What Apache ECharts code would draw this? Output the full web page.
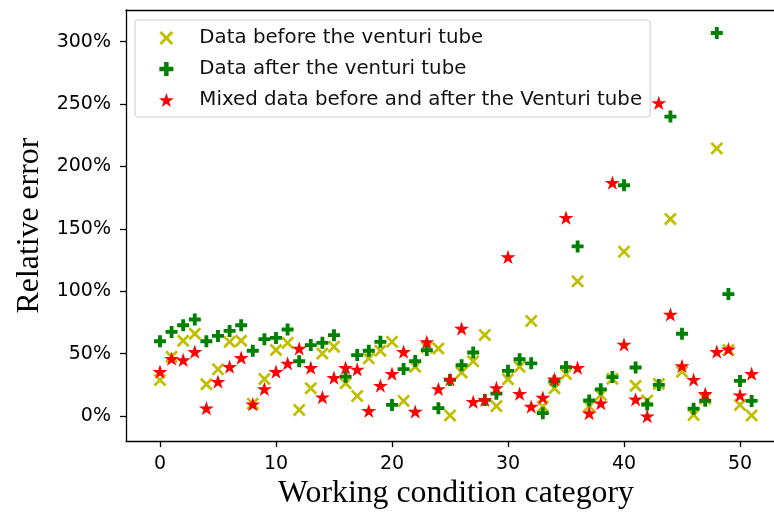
<!DOCTYPE html>
<html>
<head>
    <meta charset="utf-8" />
    <title>Relative error</title>
    <script src="https://cdn.jsdelivr.net/npm/echarts@6/dist/echarts.min.js"></script>
</head>
<body style="margin:0">
    <div id="main" style="width:774px;height:515px;"></div>
    <script type="text/javascript">
        // working condition index (x) and relative error in % (y)
        var conditions = [0, 1, 2, 3, 4, 5, 6, 7, 8, 9, 10, 11, 12, 13, 14, 15, 16, 17, 18, 19, 20, 21, 22, 23, 24, 25,
            26, 27, 28, 29, 30, 31, 32, 33, 34, 35, 36, 37, 38, 39, 40, 41, 42, 43, 44, 45, 46, 47, 48, 49, 50, 51];
        var beforeTube = [29, 47.6, 60.4, 66, 25.5, 37.5, 59.5, 60.4, 10, 29.8, 53, 58.7, 5, 22.3, 50.2, 55.6, 26.3, 16.2, 46.3, 52.4,
            59.5, 12.2, 39.6, 55, 54.2, 0.6, 35, 44, 65, 8, 29.5, 39.6, 76.3, 7.7, 22.3, 33.8, 108, 8, 17, 30,
            131.8, 24.3, 12.5, 25.8, 158, 35.6, 1, 14, 214.5, 53, 9, 0.6];
        var afterTube = [60, 67.5, 72.8, 77.4, 60, 64.3, 68.3, 72.8, 52.4, 61.7, 62.7, 69.4, 44, 56.9, 58.7, 64.9, 31.6, 48.9, 52.4, 59.5,
            9, 37.7, 44.1, 52.9, 6.4, 29, 40.8, 51, 13, 18, 36.3, 45.6, 42.3, 2.4, 28, 39.3, 136, 12.5, 21.5, 31.3,
            185, 39, 9.3, 25, 240, 66, 6, 12.3, 307, 97.8, 28.2, 12.2];
        var mixedTube = [35.6, 46, 45, 51.6, 6.4, 27.7, 39.6, 46.8, 9.6, 21.8, 35.6, 42.3, 54.2, 38.8, 15.2, 30.8, 38.8, 37.5, 4.3, 24.5,
            34, 51.6, 3.7, 59.5, 21.8, 29.5, 70.2, 11.5, 13, 22.6, 127.6, 18, 7.7, 14.9, 29.6, 159, 38.8, 2.4, 10.4, 187,
            57.4, 13.5, 0, 251, 81.5, 40.3, 29.3, 17.9, 51.6, 53.6, 16.8, 34];
        var xTicks = [0, 10, 20, 30, 40, 50];
        var yTicks = [0, 50, 100, 150, 200, 250, 300];
        var seriesNames = ['Data before the venturi tube', 'Data after the venturi tube', 'Mixed data before and after the Venturi tube'];

        var crossPath = 'path://M0,1.5L1.5,0L5,3.5L8.5,0L10,1.5L6.5,5L10,8.5L8.5,10L5,6.5L1.5,10L0,8.5L3.5,5Z';
        var plusPath = 'path://M3.4,0H6.6V3.4H10V6.6H6.6V10H3.4V6.6H0V3.4H3.4Z';
        var starPath = 'path://M10,0L12.245,6.91L19.511,6.91L13.633,11.18L15.878,18.09L10,13.82L4.122,18.09L6.367,11.18L0.489,6.91L7.755,6.91Z';

        function pairs(ys) {
            var out = [];
            for (var i = 0; i < conditions.length; i++) {
                out.push([conditions[i], ys[i]]);
            }
            return out;
        }

        var myChart = echarts.init(document.getElementById('main'));
        var tickFont = { fontFamily: 'DejaVu Sans', fontSize: 19, color: '#000' };
        var titleFont = { fontFamily: 'Liberation Serif', fontSize: 31.8, color: '#000' };
        var spine = { color: '#000', width: 1.3 };

        var option = {
            animation: false,
            backgroundColor: '#fff',
            grid: { left: 126, right: 0, top: 10, bottom: 72 },
            legend: {
                orient: 'vertical',
                left: 135, top: 20,
                padding: [8, 8, 7, 24],
                itemWidth: 56, itemHeight: 14, itemGap: 11,
                backgroundColor: 'rgba(255,255,255,0.8)',
                borderColor: '#ccc', borderWidth: 1, borderRadius: 3,
                textStyle: { fontFamily: 'DejaVu Sans', fontSize: 19.8, color: '#111' },
                data: [
                    { name: seriesNames[0], icon: crossPath },
                    { name: seriesNames[1], icon: plusPath },
                    { name: seriesNames[2], icon: starPath }
                ]
            },
            xAxis: [
                {
                    type: 'value',
                    min: -2.93, max: 52.93,
                    name: 'Working condition category',
                    nameLocation: 'middle', nameGap: 36,
                    nameTextStyle: Object.assign({ padding: [0, 0, 0, 12] }, titleFont),
                    splitLine: { show: false },
                    axisLine: { onZero: false, lineStyle: spine },
                    axisTick: { length: 6, lineStyle: spine, customValues: xTicks },
                    axisLabel: Object.assign({ margin: 13, customValues: xTicks }, tickFont)
                },
                {
                    // top spine only
                    type: 'value', position: 'top',
                    min: -2.93, max: 52.93,
                    splitLine: { show: false },
                    axisLine: { onZero: false, lineStyle: spine },
                    axisTick: { show: false },
                    axisLabel: { show: false }
                }
            ],
            yAxis: {
                type: 'value',
                min: -20, max: 325.4,
                name: 'Relative error',
                nameLocation: 'middle', nameGap: 80,
                nameTextStyle: titleFont,
                splitLine: { show: false },
                axisLine: { onZero: false, lineStyle: spine },
                axisTick: { length: 6, lineStyle: spine, customValues: yTicks },
                axisLabel: Object.assign({ margin: 15, customValues: yTicks, formatter: '{value}%' }, tickFont)
            },
            series: [
                {
                    name: seriesNames[0], type: 'scatter', data: pairs(beforeTube),
                    symbol: crossPath, symbolSize: 13, symbolKeepAspect: true,
                    itemStyle: { color: '#bfbf00', opacity: 1 }
                },
                {
                    name: seriesNames[1], type: 'scatter', data: pairs(afterTube),
                    symbol: plusPath, symbolSize: 12, symbolKeepAspect: true,
                    itemStyle: { color: '#008000', opacity: 1 }
                },
                {
                    name: seriesNames[2], type: 'scatter', data: pairs(mixedTube),
                    symbol: starPath, symbolSize: 15, symbolKeepAspect: true,
                    itemStyle: { color: '#ff0000', opacity: 1 }
                }
            ]
        };
        myChart.setOption(option);
    </script>
</body>
</html>
